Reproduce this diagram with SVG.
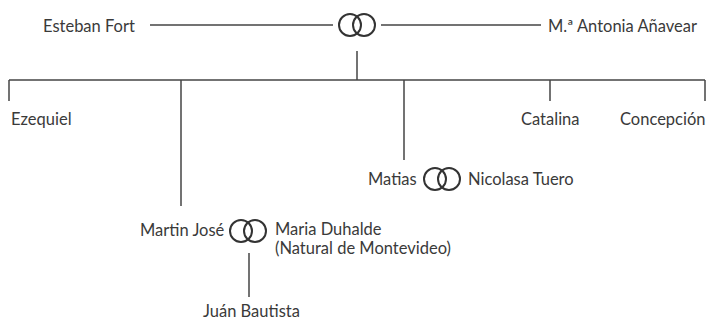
<svg xmlns="http://www.w3.org/2000/svg" width="709" height="322" viewBox="0 0 709 322">
<defs>
<style>
text{font-family:Lato,"Open Sans",sans-serif;font-size:16.5px;fill:#3a3a3a}
.l{stroke:#444;stroke-width:1.5;fill:none}
.r{stroke:#333;stroke-width:2;fill:none}
</style>
<g id="rings"><circle class="r" cx="-7" cy="0" r="11"/><circle class="r" cx="7" cy="0" r="11"/></g>
</defs>
<rect width="709" height="322" fill="#fff"/>
<g id="connectors">
<line class="l" x1="150" y1="25" x2="333" y2="25"/>
<line class="l" x1="381" y1="25" x2="541" y2="25"/>
<line class="l" x1="357" y1="51" x2="357" y2="80"/>
<line class="l" x1="9" y1="80" x2="705" y2="80"/>
<line class="l" x1="9" y1="80" x2="9" y2="101"/>
<line class="l" x1="181" y1="80" x2="181" y2="206"/>
<line class="l" x1="404" y1="80" x2="404" y2="160"/>
<line class="l" x1="550" y1="80" x2="550" y2="101"/>
<line class="l" x1="705" y1="80" x2="705" y2="101"/>
<line class="l" x1="249" y1="253" x2="249" y2="297"/>
</g>
<g id="esteban"><text x="43" y="32">Esteban Fort</text></g>
<g id="marriage1"><use href="#rings" x="357" y="25"/></g>
<g id="antonia"><text x="548" y="32">M.ª Antonia Añavear</text></g>
<g id="ezequiel"><text x="11" y="125">Ezequiel</text></g>
<g id="catalina"><text x="521" y="125">Catalina</text></g>
<g id="concepcion"><text x="620" y="125">Concepción</text></g>
<g id="matias"><text x="368" y="185">Matias</text></g>
<g id="marriage2"><use href="#rings" x="442" y="179"/></g>
<g id="nicolasa"><text x="468" y="185">Nicolasa Tuero</text></g>
<g id="martin"><text x="140" y="236">Martin José</text></g>
<g id="marriage3"><use href="#rings" x="248" y="231"/></g>
<g id="maria"><text x="275" y="235">Maria Duhalde</text><text x="275" y="254">(Natural de Montevideo)</text></g>
<g id="juan"><text x="203" y="317">Juán Bautista</text></g>
</svg>
